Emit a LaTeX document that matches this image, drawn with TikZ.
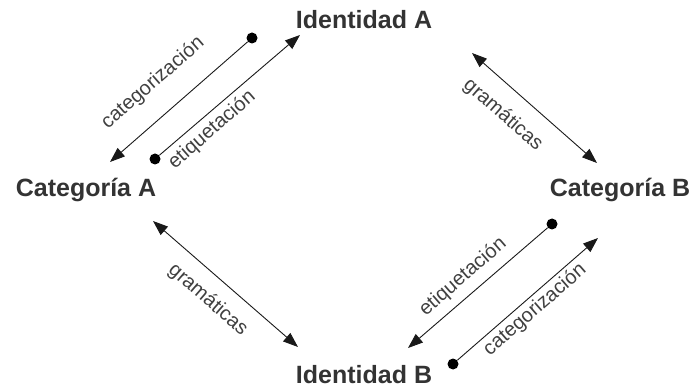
\documentclass[tikz,border=0pt]{standalone}
\usepackage{fontspec}
\setmainfont{Liberation Sans}
\usetikzlibrary{arrows.meta}
\begin{document}
\begin{tikzpicture}[
        x = 1pt,
        y = -1pt,
        place/.style = {font=\bfseries\fontsize{25}{25}\selectfont, text=black!80},
        rel/.style = {font=\fontsize{20}{20}\selectfont, text=black!75},
        arr/.style = {draw=black!90, line width=.9pt, -{Triangle[length=15pt,width=11pt]}},
        both/.style = {draw=black!90, line width=.9pt, {Triangle[length=15pt,width=11pt]}-{Triangle[length=15pt,width=11pt]}},
        dot/.style = {circle, fill=black, inner sep=0pt, minimum size=11pt}
    ]
        \useasboundingbox (0,0) rectangle (698,387);

        % places
        \node[place] (idA)  at (364, 20) {Identidad A};
        \node[place] (catA) at ( 86,190) {Categoría A};
        \node[place] (catB) at (620,190) {Categoría B};
        \node[place] (idB)  at (364,375) {Identidad B};

        % upper left pair
        \node[dot] (dotA1) at (252, 38) {};
        \coordinate (tipA1) at (110,162);
        \draw[arr] (dotA1)--(tipA1);
        \node[dot] (dotA2) at (155,159) {};
        \coordinate (tipA2) at (300, 35);
        \draw[arr] (dotA2)--(tipA2);
        \node[rel, rotate=41] (catzA) at (153, 83) {categorización};
        \node[rel, rotate=41] (etiqA) at (212,130) {etiquetación};

        % upper right
        \coordinate (gB1) at (472, 53);
        \coordinate (gB2) at (597,163);
        \draw[both] (gB1)--(gB2);
        \node[rel, rotate=-41] (gramB) at (503,115) {gramáticas};

        % lower left
        \coordinate (gA1) at (153,221);
        \coordinate (gA2) at (298,347);
        \draw[both] (gA1)--(gA2);
        \node[rel, rotate=-41] (gramA) at (208,300) {gramáticas};

        % lower right pair
        \node[dot] (dotB1) at (552,224) {};
        \coordinate (tipB1) at (408,348);
        \draw[arr] (dotB1)--(tipB1);
        \node[dot] (dotB2) at (453,364) {};
        \coordinate (tipB2) at (598,238);
        \draw[arr] (dotB2)--(tipB2);
        \node[rel, rotate=41] (etiqB) at (463,277) {etiquetación};
        \node[rel, rotate=41] (catzB) at (535,310) {categorización};
    \end{tikzpicture}
\end{document}
